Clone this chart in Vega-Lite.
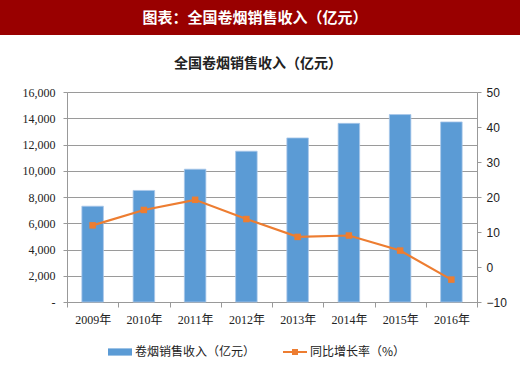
{
  "$schema": "https://vega.github.io/schema/vega-lite/v6.json",
  "padding": 0,
  "background": "white",
  "spacing": 22,
  "config": {"font": "Noto Sans CJK SC", "view": {"stroke": null}},
  "datasets": {
    "d": [
      {"year": "2009年", "revenue": 7300, "growth": 11.9},
      {"year": "2010年", "revenue": 8500, "growth": 16.3},
      {"year": "2011年", "revenue": 10120, "growth": 19.2},
      {"year": "2012年", "revenue": 11490, "growth": 13.7},
      {"year": "2013年", "revenue": 12500, "growth": 8.6},
      {"year": "2014年", "revenue": 13610, "growth": 9.0},
      {"year": "2015年", "revenue": 14280, "growth": 4.7},
      {"year": "2016年", "revenue": 13720, "growth": -3.6}
    ]
  },
  "vconcat": [
    {
      "width": 520,
      "height": 35,
      "view": {"fill": "#990000", "stroke": null},
      "data": {"values": [{"t": "图表：全国卷烟销售收入（亿元）"}]},
      "mark": {"type": "text", "color": "white", "fontSize": 15, "fontWeight": "bold", "font": "Noto Sans CJK SC", "dx": -5},
      "encoding": {"text": {"field": "t"}}
    },
    {
      "spacing": 0,
      "hconcat": [
        {
          "width": 1,
          "height": 210,
          "view": {"stroke": null},
          "data": {"values": []},
          "mark": "point"
        },
        {
          "width": 410,
          "height": 210,
          "title": {"text": "全国卷烟销售收入（亿元）", "fontSize": 14, "fontWeight": "bold", "color": "#222222", "frame": "group", "anchor": "middle", "offset": 15, "dx": -14, "font": "Noto Sans CJK SC"},
          "data": {"name": "d"},
          "encoding": {
            "x": {
              "field": "year", "type": "nominal", "sort": null,
              "scale": {"paddingInner": 0, "paddingOuter": 0},
              "axis": {
                "title": null, "labelAngle": 0, "tickBand": "extent", "grid": false,
                "domainColor": "#999999", "tickColor": "#999999", "tickSize": 5,
                "labelFont": "Liberation Serif, Noto Sans CJK SC", "labelFontSize": 12, "labelColor": "#222222", "labelPadding": 7
              }
            }
          },
          "layer": [
            {
              "mark": {"type": "bar", "width": {"band": 0.42}, "stroke": "#a9c8ea", "strokeWidth": 0.8},
              "encoding": {
                "y": {
                  "field": "revenue", "type": "quantitative",
                  "scale": {"domain": [0, 16000]},
                  "axis": {
                    "title": " ", "titleFontSize": 11, "titlePadding": 10,
                    "values": [0, 2000, 4000, 6000, 8000, 10000, 12000, 14000, 16000],
                    "labelExpr": "datum.value === 0 ? '-' : format(datum.value, ',')",
                    "grid": true, "gridColor": "#9a9a9a", "gridWidth": 1,
                    "domainColor": "#999999", "tickColor": "#999999", "tickSize": 4,
                    "labelFont": "Liberation Serif", "labelFontSize": 12, "labelColor": "#222222", "labelPadding": 8
                  }
                },
                "color": {
                  "datum": "卷烟销售收入（亿元）",
                  "scale": {"domain": ["卷烟销售收入（亿元）", "同比增长率（%）"], "range": ["#5B9BD5", "#ED7D31"]},
                  "legend": {
                    "orient": "none", "legendX": 108, "legendY": 340, "direction": "horizontal", "title": null,
                    "symbolSize": 576, "labelFontSize": 12, "labelColor": "#222222", "labelFont": "Noto Sans CJK SC",
                    "labelOffset": 3, "columnPadding": 27, "symbolStrokeWidth": 0,
                    "symbolType": {"expr": "datum.value === '卷烟销售收入（亿元）' ? 'M-1,-0.3H1V0.3H-1Z' : 'M-1,-0.085H1V0.085H-1ZM-0.25,-0.25H0.25V0.25H-0.25Z'"}
                  }
                }
              }
            },
            {
              "mark": {"type": "line", "strokeWidth": 2.2, "point": {"shape": "square", "size": 42, "filled": true, "color": "#ED7D31"}},
              "encoding": {
                "y": {
                  "field": "growth", "type": "quantitative",
                  "scale": {"domain": [-10, 50]},
                  "axis": {
                    "orient": "right", "title": null, "values": [-10, 0, 10, 20, 30, 40, 50], "grid": false,
                    "domainColor": "#999999", "tickColor": "#999999", "tickSize": 4,
                    "labelFont": "Liberation Sans", "labelFontSize": 12, "labelColor": "#222222", "labelPadding": 5
                  }
                },
                "color": {"datum": "同比增长率（%）"}
              }
            }
          ],
          "resolve": {"scale": {"y": "independent"}}
        }
      ]
    }
  ]
}
